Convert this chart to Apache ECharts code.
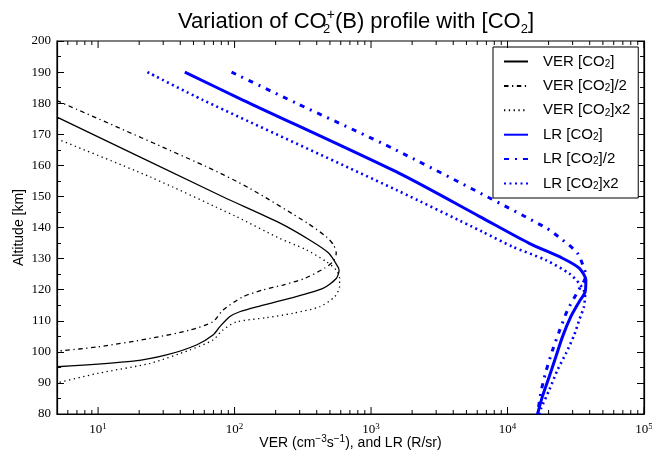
<!DOCTYPE html>
<html>
<head>
<meta charset="utf-8">
<script src="https://cdn.jsdelivr.net/npm/echarts@6/dist/echarts.min.js"></script>
<style>
  html, body { margin: 0; padding: 0; background: #fff; }
  #chart { width: 652px; height: 454px; }
</style>
</head>
<body>
<div id="chart"></div>
<script>
// Profiles as [value, altitude km]; VER in cm^-3 s^-1, LR in R/sr
const verCO2 = [
  [5, 175.5], [82, 149.9], [207, 141.8], [355, 136.0], [489, 131.8], [571, 127.4],
  [583, 126.2], [556, 123.6], [444, 120.4], [253, 117.2], [145, 114.5], [109, 112.9],
  [92, 111.3], [78, 108.1], [69.5, 105.4], [52.6, 102.2], [31.7, 99.0], [18.1, 97.0], [5, 95.2]
];
const verHalf = [
  [5, 180.8], [62, 159.6], [129, 152.6], [345, 141.3], [470, 137.0], [531, 134.4],
  [556, 131.7], [522, 128.9], [456, 126.9], [326, 123.6], [226, 121.5], [161, 119.9],
  [115, 117.7], [82, 113.4], [69.5, 109.7], [47, 107.0], [24, 104.3], [10, 101.6], [5, 100.2]
];
const verDouble = [
  [5, 168.5], [24, 156.3], [103, 143.5], [214, 136.5], [336, 132.8], [470, 129.0],
  [556, 126.3], [588, 123.6], [588, 121.0], [541, 117.7], [420, 114.5], [268, 112.4],
  [171, 111.0], [103, 109.6], [82, 107.0], [69.5, 103.8], [47, 100.6], [24, 96.3],
  [10, 93.1], [5, 90.0]
];
const lrCO2 = [
  [43.2, 190], [115, 181.0], [1614, 157.4], [6210, 143.6], [14430, 134.9], [25300, 130.1],
  [33500, 126.9], [37500, 123.1], [37060, 119.3], [33500, 116.1], [29100, 111.3],
  [25300, 104.9], [22600, 98.4], [20200, 92.0], [18000, 85.6], [16600, 80]
];
const lrHalf = [
  [95, 190], [283, 180], [1528, 164.9], [18600, 140.2], [25300, 136.0], [32600, 131.7],
  [37060, 125.8], [37500, 124.5], [32600, 119.3], [27500, 113.4], [23900, 106.5],
  [21400, 100.6], [19100, 93.6], [17600, 87.2], [16600, 80]
];
const lrDouble = [
  [23, 190], [58.7, 181], [1528, 152.1], [6570, 138.6], [10900, 133.8], [19100, 129.5],
  [28300, 125.2], [33500, 122.0], [37000, 118.5], [36300, 114.5], [33500, 110.2],
  [30800, 105.4], [26800, 99.5], [23200, 94.1], [20200, 87.7], [17600, 81.8], [17100, 80]
];

const seriesNames = [
  'VER [CO{sub|2}]', 'VER [CO{sub|2}]/2', 'VER [CO{sub|2}]x2',
  'LR [CO{sub|2}]', 'LR [CO{sub|2}]/2', 'LR [CO{sub|2}]x2'
];

// Log-axis tick positions (decades and in-between)
const xMajorTicks = [10, 100, 1000, 10000, 100000];
const xMinorTicks = [
  6, 7, 8, 9,
  20, 30, 40, 50, 60, 70, 80, 90,
  200, 300, 400, 500, 600, 700, 800, 900,
  2000, 3000, 4000, 5000, 6000, 7000, 8000, 9000,
  20000, 30000, 40000, 50000, 60000, 70000, 80000, 90000
];

const yMin = 80, yMax = 200, yStep = 10;
const xMin = 5, xMax = 100000;

const serif = '"Liberation Serif", "DejaVu Serif", serif';
const sans = '"Liberation Sans", Arial, sans-serif';

const tickData = xMajorTicks.map(v => [v, 1]).concat(xMinorTicks.map(v => [v, 0]));

function lineSeries(name, data, color, width, type) {
  return {
    name: name,
    type: 'line',
    data: data,
    symbol: 'none',
    smooth: 0.25,
    clip: true,
    lineStyle: { color: color, width: width, type: type },
    itemStyle: { color: color },
    emphasis: { disabled: true },
    z: 3
  };
}

const chart = echarts.init(document.getElementById('chart'), null, { renderer: 'canvas' });

chart.setOption({
  animation: false,
  backgroundColor: '#fff',
  title: {
    text: 'Variation of CO{s0|2}{sp|+}(B) profile with [CO{sb|2}]',
    left: 351,
    textAlign: 'center',
    top: 3,
    textStyle: {
      fontFamily: sans, fontSize: 22, fontWeight: 'normal', color: '#000', lineHeight: 28,
      rich: {
        s0: { fontFamily: sans, fontSize: 13, verticalAlign: 'bottom', lineHeight: 15, width: 0 },
        sp: { fontFamily: sans, fontSize: 14, verticalAlign: 'top', lineHeight: 14 },
        sb: { fontFamily: sans, fontSize: 13, verticalAlign: 'bottom', lineHeight: 15 }
      }
    }
  },
  grid: {
    left: 57, right: 8, top: 41, bottom: 40,
    outerBoundsMode: 'none',
    containLabel: false,
    show: true, borderColor: '#000', borderWidth: 1.2, backgroundColor: 'transparent'
  },
  legend: {
    orient: 'vertical',
    left: 493,
    top: 47,
    data: seriesNames,
    itemWidth: 24,
    itemHeight: 14,
    itemGap: 9.4,
    padding: [7, 8, 7, 10],
    borderColor: '#000',
    borderWidth: 1,
    borderRadius: 0,
    backgroundColor: '#fff',
    selectedMode: false,
    itemStyle: { opacity: 0, borderWidth: 0 },
    textStyle: {
      fontFamily: sans, fontSize: 15, color: '#000', padding: [0, 0, 0, 10],
      rich: {
        sub: { fontFamily: sans, fontSize: 10, verticalAlign: 'bottom', lineHeight: 10 }
      }
    }
  },
  xAxis: [{
    type: 'log',
    logBase: 10,
    min: xMin,
    max: xMax,
    name: 'VER (cm{sp|\u22123}s{sp|\u22121}), and LR (R/sr)',
    nameLocation: 'middle',
    nameGap: 20,
    nameMoveOverlap: false,
    nameTextStyle: {
      fontFamily: sans, fontSize: 14, color: '#000', lineHeight: 18,
      rich: { sp: { fontFamily: sans, fontSize: 10, verticalAlign: 'top', lineHeight: 10 } }
    },
    axisLine: { show: true, lineStyle: { color: '#000', width: 1.2 } },
    axisTick: { show: false },
    splitLine: { show: false },
    axisLabel: {
      showMinLabel: false,
      margin: 8,
      color: '#000',
      fontFamily: serif,
      fontSize: 13,
      lineHeight: 16,
      formatter: function (v) {
        const e = Math.log10(v);
        const r = Math.round(e);
        if (Math.abs(e - r) > 1e-6) return '';
        return '10{sp|' + r + '}';
      },
      rich: { sp: { fontFamily: serif, fontSize: 9, verticalAlign: 'top', lineHeight: 9 } }
    }
  }],
  yAxis: [{
    type: 'value',
    min: yMin,
    max: yMax,
    interval: yStep,
    name: 'Altitude [km]',
    nameLocation: 'middle',
    nameGap: 31,
    nameMoveOverlap: false,
    nameTextStyle: { fontFamily: sans, fontSize: 14, color: '#000' },
    axisLine: { show: true, lineStyle: { color: '#000', width: 1.2 } },
    axisTick: { show: true, inside: true, length: 7, lineStyle: { color: '#000', width: 1 } },
    minorTick: { show: true, splitNumber: 2, length: 4, lineStyle: { color: '#000', width: 1 } },
    splitLine: { show: false },
    axisLabel: { color: '#000', fontFamily: serif, fontSize: 13, margin: 6 }
  }, {
    type: 'value',
    position: 'right',
    min: yMin,
    max: yMax,
    interval: yStep,
    axisLine: { show: true, lineStyle: { color: '#000', width: 1.2 } },
    axisTick: { show: true, inside: true, length: 7, lineStyle: { color: '#000', width: 1 } },
    minorTick: { show: true, splitNumber: 2, length: 4, lineStyle: { color: '#000', width: 1 } },
    splitLine: { show: false },
    axisLabel: { show: false }
  }],
  series: [
    lineSeries(seriesNames[0], verCO2, '#000', 1.3, 'solid'),
    lineSeries(seriesNames[1], verHalf, '#000', 1.3, [4.5, 3.5, 1.3, 3.5]),
    lineSeries(seriesNames[2], verDouble, '#000', 1.3, [1.3, 3.5]),
    lineSeries(seriesNames[3], lrCO2, '#0000ff', 3, 'solid'),
    lineSeries(seriesNames[4], lrHalf, '#0000ff', 3, [5, 6, 2, 6]),
    lineSeries(seriesNames[5], lrDouble, '#0000ff', 2.6, [2, 3.5]),
    {
      // inward-pointing ticks on the bottom and top edges of the log axis
      type: 'custom',
      data: tickData,
      encode: { x: 0, y: 1 },
      clip: false,
      silent: true,
      z: 4,
      renderItem: function (params, api) {
        const v = api.value(0);
        const len = api.value(1) ? 7 : 4;
        const b = api.coord([v, yMin]);
        const t = api.coord([v, yMax]);
        const st = { stroke: '#000', lineWidth: 1 };
        return {
          type: 'group',
          children: [
            { type: 'line', shape: { x1: b[0], y1: b[1], x2: b[0], y2: b[1] - len }, style: st },
            { type: 'line', shape: { x1: t[0], y1: t[1], x2: t[0], y2: t[1] + len }, style: st }
          ]
        };
      }
    }
  ]
});
</script>
</body>
</html>
